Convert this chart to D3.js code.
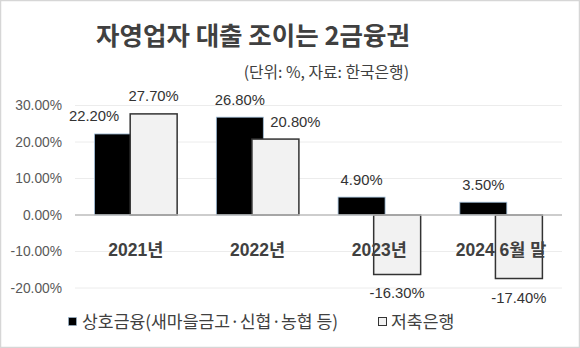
<!DOCTYPE html>
<html><head><meta charset="utf-8">
<script src="https://cdn.jsdelivr.net/npm/d3@7"></script>
<style>
body{margin:0;background:#fff;}
svg{display:block;}
text{font-family:"Liberation Sans","Noto Sans CJK KR",sans-serif;}
.kr{font-family:"Noto Sans CJK KR","Liberation Sans",sans-serif;}
</style></head>
<body>
<svg id="c" width="580" height="348"></svg>
<script>
const categories = ["2021년", "2022년", "2023년", "2024 6월 말"];
const seriesNames = ["상호금융(새마을금고·신협·농협 등)", "저축은행"];
const mutualValues = [22.2, 26.8, 4.9, 3.5];
const savingsValues = [27.7, 20.8, -16.3, -17.4];
const yTicks = [-20, -10, 0, 10, 20, 30];
const titleText = "자영업자 대출 조이는 2금융권";
const subtitleText = "(단위: %, 자료: 한국은행)";

const pct = v => (v < 0 ? "-" : "") + Math.abs(v).toFixed(2) + "%";

const svg = d3.select("#c");
const W = 580, H = 348;
svg.append("rect").attr("x",0.5).attr("y",0.5).attr("width",W-1).attr("height",H-1)
  .attr("fill","#fff").attr("stroke","#d6d6d6").attr("stroke-width",1.5);

const x0 = d3.scaleBand().domain(categories).range([75, 562]).paddingInner(0.322).paddingOuter(0.161);
const x1 = d3.scaleBand().domain([0,1]).range([0, x0.bandwidth()]).paddingInner(-0.32);
const y = d3.scaleLinear().domain([-20, 30]).range([288, 105.5]);

// gridlines
svg.append("g").selectAll("line").data(yTicks.filter(d=>d!==0)).join("line")
  .attr("x1",75).attr("x2",562).attr("y1",d=>y(d)).attr("y2",d=>y(d))
  .attr("stroke","#ececec").attr("stroke-width",1);

// y axis labels
const yAxis = d3.axisLeft(y).tickValues(yTicks).tickFormat(pct).tickSize(0).tickPadding(0);
const ga = svg.append("g").attr("transform","translate(62,0)").call(yAxis);
ga.select(".domain").remove();
ga.selectAll("text").attr("font-size",13.8).attr("fill","#595959")
  .attr("font-family","Liberation Sans, sans-serif");

// bars
const rows = categories.map((c,i)=>({c, v:[mutualValues[i], savingsValues[i]]}));
const groups = svg.append("g").selectAll("g").data(rows).join("g")
  .attr("transform",d=>`translate(${x0(d.c)},0)`);
groups.selectAll("rect").data(d=>d.v.map((v,k)=>({v,k}))).join("rect")
  .attr("x",d=>x1(d.k)).attr("width",x1.bandwidth())
  .attr("y",d=>y(Math.max(0,d.v))).attr("height",d=>Math.abs(y(d.v)-y(0)))
  .attr("fill",d=>d.k===0?"#000":"#f2f2f2")
  .attr("stroke",d=>d.k===0?"#9dbbd6":"#333")
  .attr("stroke-width",d=>d.k===0?0.8:1.5);

// zero line
svg.append("line").attr("x1",75).attr("x2",562).attr("y1",y(0)).attr("y2",y(0))
  .attr("stroke","#bdbdbd").attr("stroke-width",1.5);

// data labels (shorter bar's label nudged away from the taller neighbour)
groups.selectAll("text.v").data(d=>d.v.map((v,k)=>({v,k,other:d.v[1-k]}))).join("text")
  .attr("class","v")
  .attr("x",d=>{
    let cx = x1(d.k)+x1.bandwidth()/2;
    if(d.v>0 && d.other>d.v) cx += (d.k===0 ? -24 : 20);
    return cx;
  })
  .attr("y",d=>d.v>=0 ? y(d.v)-12.5 : y(d.v)+24)
  .attr("text-anchor","middle").attr("font-size",14.8).attr("fill","#333")
  .text(d=>pct(d.v));

// category labels
svg.append("g").selectAll("text").data(categories).join("text")
  .attr("x",d=>x0(d)+x0.bandwidth()/2).attr("y",y(-10)+4)
  .attr("text-anchor","middle").attr("font-size",17.5).attr("font-weight","bold")
  .attr("fill","#404040").text(d=>d);

// title
svg.append("text").attr("class","kr").attr("x",253).attr("y",45)
  .attr("text-anchor","middle").attr("font-size",25.5).attr("font-weight","bold")
  .attr("fill","#404040").text(titleText);
svg.append("text").attr("class","kr").attr("x",409).attr("y",78)
  .attr("text-anchor","end").attr("font-size",15.8).attr("fill","#404040").text(subtitleText);

// legend
const lg = svg.append("g");
lg.append("rect").attr("x",68.5).attr("y",317.5).attr("width",8).attr("height",8).attr("fill","#000").attr("stroke","#9dbbd6").attr("stroke-width",0.6);
lg.append("text").attr("class","kr").attr("x",82).attr("y",328).attr("font-size",17.2).attr("fill","#404040").text(seriesNames[0]);
lg.append("rect").attr("x",378.5).attr("y",317.5).attr("width",8).attr("height",8).attr("fill","#f2f2f2").attr("stroke","#333").attr("stroke-width",1);
lg.append("text").attr("class","kr").attr("x",391).attr("y",328).attr("font-size",17.2).attr("fill","#404040").text(seriesNames[1]);
</script>
</body></html>
